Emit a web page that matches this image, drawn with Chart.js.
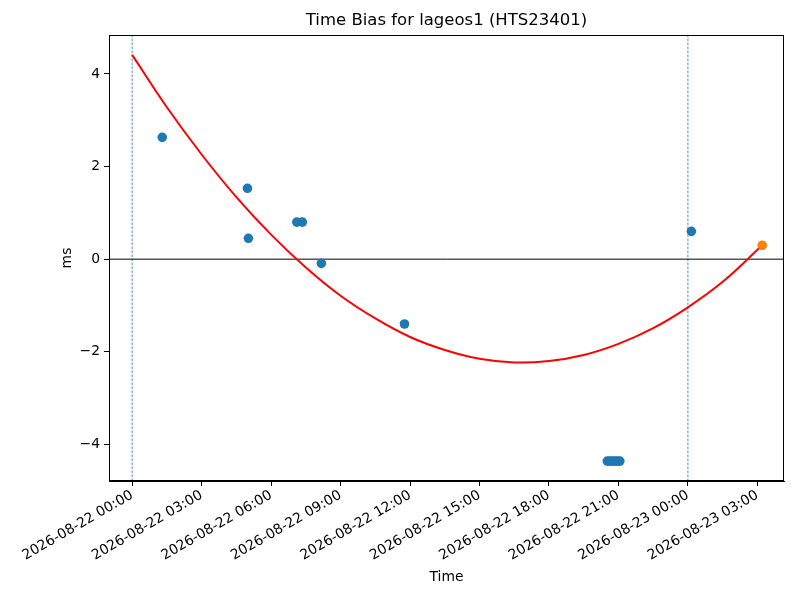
<!DOCTYPE html>
<html>
<head>
<meta charset="utf-8">
<script src="https://cdn.jsdelivr.net/npm/chart.js@4.4.1/dist/chart.umd.min.js"></script>
<style>
  body { margin: 0; background: #fff; }
  canvas { display: block; }
</style>
</head>
<body>
<canvas id="myChart" width="800" height="600"></canvas>
<script>
// hours since 2026-08-22 00:00
var obsHours = [1.30, 4.98, 5.02, 7.11, 7.35, 8.17, 11.76, 20.52, 20.63, 20.74, 20.85, 20.96, 21.06, 24.15];
var obsBias  = [2.63, 1.53, 0.45, 0.80, 0.80, -0.09, -1.40, -4.36, -4.36, -4.36, -4.36, -4.36, -4.36, 0.60];

var lastHour = [27.21];
var lastBias = [0.30];

// red fit curve
var fitHours = [0, 1.5, 3, 4.5, 6, 7.5, 9, 10.5, 12, 13.5, 15, 16.5, 18, 19.5, 21, 22.5, 24, 25.5, 27.21];
var fitBias  = [4.41, 3.28, 2.26, 1.34, 0.53, -0.18, -0.79, -1.28, -1.68, -1.96, -2.15, -2.23, -2.20, -2.07, -1.83, -1.49, -1.04, -0.49, 0.30];

var dayLines = [0, 24];
var xTicks = [0, 3, 6, 9, 12, 15, 18, 21, 24, 27];
var yTicks = [-4, -2, 0, 2, 4];

var xMin = -1.0, xMax = 28.15;
var yMin = -4.79, yMax = 4.84;

function pad(n) { return (n < 10 ? '0' : '') + n; }
function hourLabel(h) {
    var day = 22 + Math.floor(h / 24);
    var hh = h % 24;
    return '2026-08-' + pad(day) + ' ' + pad(hh) + ':00';
}

var font = 'DejaVu Sans';

var datasets = [];
datasets.push({
    data: lastHour.map(function(h, i) { return {x: h, y: lastBias[i]}; }),
    showLine: false,
    pointRadius: 4.8,
    pointBackgroundColor: '#ff7f0e',
    pointBorderWidth: 0
});
datasets.push({
    data: fitHours.map(function(h, i) { return {x: h, y: fitBias[i]}; }),
    showLine: true,
    borderColor: '#ff0000',
    borderWidth: 2,
    tension: 0.4,
    pointRadius: 0
});
datasets.push({
    data: obsHours.map(function(h, i) { return {x: h, y: obsBias[i]}; }),
    showLine: false,
    pointRadius: 4.8,
    pointBackgroundColor: '#1f77b4',
    pointBorderWidth: 0
});
datasets.push({
    data: [{x: xMin, y: 0}, {x: xMax, y: 0}],
    showLine: true,
    borderColor: '#000000',
    borderWidth: 1,
    pointRadius: 0
});
dayLines.forEach(function(h) {
    datasets.push({
        data: [{x: h, y: yMin}, {x: h, y: yMax}],
        showLine: true,
        borderColor: '#1f77b4',
        borderWidth: 0.8,
        borderDash: [2.5, 1.5],
        pointRadius: 0
    });
});

var textPlugin = {
    id: 'textPlugin',
    afterDraw: function(chart) {
        var c = chart.ctx, a = chart.chartArea;
        c.save();
        c.strokeStyle = '#000';
        c.lineWidth = 1;
        c.strokeRect(a.left + 0.5, a.top + 0.5, a.right - a.left - 1, a.bottom - a.top - 1);
        c.fillStyle = '#000';
        c.textAlign = 'center';
        c.textBaseline = 'middle';
        c.font = '16.5px "' + font + '"';
        c.fillText('Time Bias for lageos1 (HTS23401)', (a.left + a.right) / 2, 21);
        c.font = '13.9px "' + font + '"';
        c.fillText('Time', (a.left + a.right) / 2, 577);
        c.translate(67, (a.top + a.bottom) / 2);
        c.rotate(-Math.PI / 2);
        c.fillText('ms', 0, 0);
        c.restore();
    }
};

var ctx = document.getElementById('myChart').getContext('2d');
var myChart = new Chart(ctx, {
    type: 'scatter',
    data: { datasets: datasets },
    options: {
        responsive: false,
        animation: false,
        devicePixelRatio: 1,
        layout: { padding: { top: 35, right: 16, left: 0, bottom: 0 } },
        plugins: {
            legend: { display: false },
            tooltip: { enabled: false },
            title: { display: false }
        },
        scales: {
            x: {
                type: 'linear',
                min: xMin,
                max: xMax,
                afterBuildTicks: function(scale) {
                    scale.ticks = xTicks.map(function(v) { return {value: v}; });
                },
                afterFit: function(scale) { scale.height = 119; },
                grid: { drawOnChartArea: false, drawTicks: true, tickLength: 5, color: '#000' },
                border: { display: true, color: '#000' },
                ticks: {
                    autoSkip: false,
                    minRotation: 30,
                    maxRotation: 30,
                    padding: 1,
                    color: '#000',
                    font: { family: font, size: 13.9 },
                    callback: function(v) { return hourLabel(v); }
                }
            },
            y: {
                type: 'linear',
                min: yMin,
                max: yMax,
                afterBuildTicks: function(scale) {
                    scale.ticks = yTicks.map(function(v) { return {value: v}; });
                },
                afterFit: function(scale) { scale.width = 109; },
                grid: { drawOnChartArea: false, drawTicks: true, tickLength: 5, color: '#000' },
                border: { display: true, color: '#000' },
                ticks: {
                    padding: 4,
                    color: '#000',
                    font: { family: font, size: 13.9 },
                    callback: function(v) { return v < 0 ? '\u2212' + Math.abs(v) : String(v); }
                }
            }
        }
    },
    plugins: [textPlugin]
});
</script>
</body>
</html>
